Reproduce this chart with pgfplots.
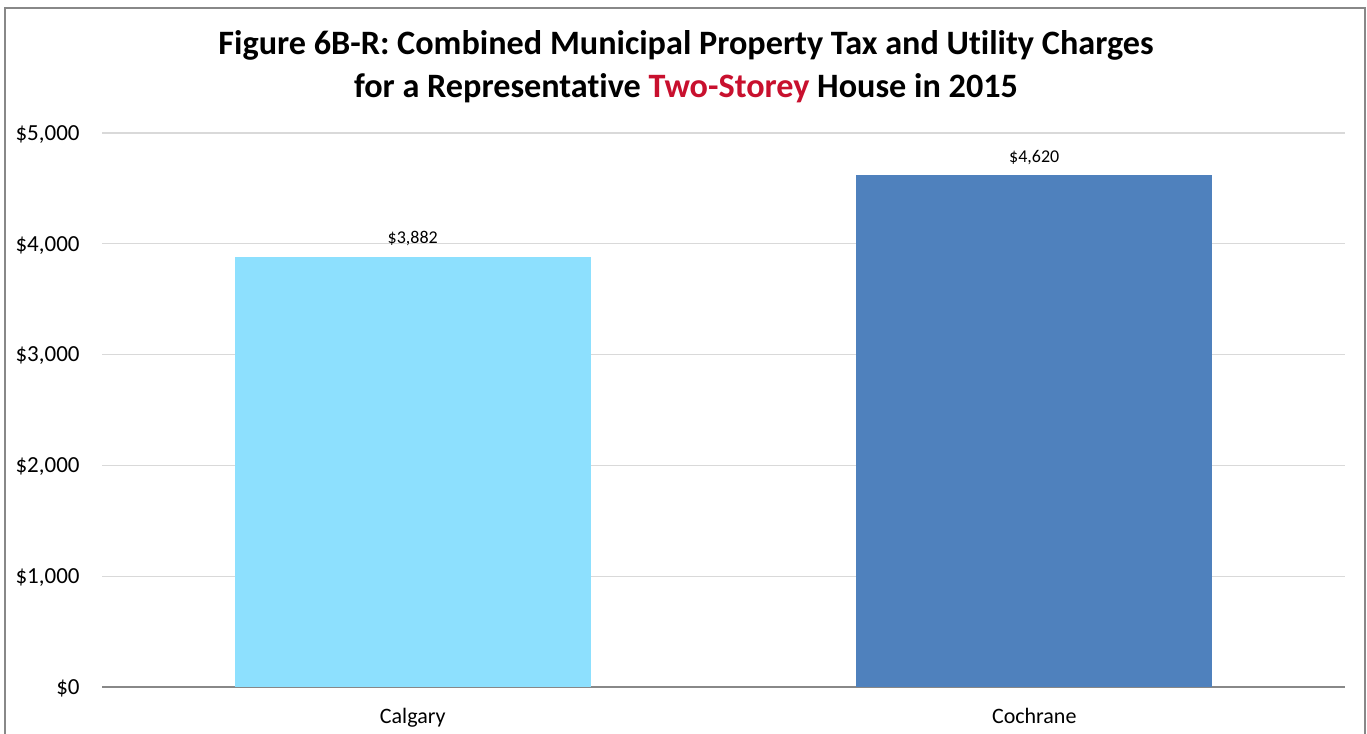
\documentclass[border=0pt]{standalone}
\usepackage{pgfplots}
\pgfplotsset{compat=1.18}
\usepackage{fontspec}
\setmainfont{Carlito}[Ligatures=NoCommon]
\definecolor{calg}{HTML}{8DE0FE}
\definecolor{coch}{HTML}{4F81BD}
\definecolor{titlered}{HTML}{C8102E}
\definecolor{gridgray}{HTML}{D9D9D9}
\definecolor{axgray}{HTML}{888888}
\begin{document}
\begin{tikzpicture}[x=1pt,y=1pt]
\useasboundingbox (0,0) rectangle (683.5,367);
\draw[axgray, line width=1pt] (2.5,-2) -- (2.5,363) -- (682.5,363) -- (682.5,-2);
\node[anchor=base, font=\fontsize{17.1}{20}\selectfont\bfseries] at (343,339.5) {Figure 6B-R: Combined Municipal Property Tax and Utility Charges};
\node[anchor=base, font=\fontsize{17.1}{20}\selectfont\bfseries] at (343,318) {for a Representative \textcolor{titlered}{Two-Storey} House in 2015};
\begin{axis}[
  at={(51pt,23.5pt)}, anchor=south west,
  scale only axis, width=621.5pt, height=277pt,
  xmin=-0.5, xmax=1.5, ymin=0, ymax=5000,
  xtick={0,1}, xticklabels={Calgary,Cochrane},
  ytick={0,1000,2000,3000,4000,5000},
  yticklabels={{\$0},{\$1,000},{\$2,000},{\$3,000},{\$4,000},{\$5,000}},
  major tick length=0pt,
  axis y line*=left,
  axis x line*=bottom,
  y axis line style={draw=none},
  x axis line style={axgray, line width=1pt, -},
  ymajorgrids, grid style={gridgray, line width=0.6pt},
  yticklabel style={anchor=base east, yshift=-3.6pt, xshift=-11pt, inner sep=0pt, font=\fontsize{11.5}{13}\selectfont},
  xticklabel style={anchor=base, yshift=-18.5pt, inner sep=0pt, font=\fontsize{11}{13}\selectfont},
  ybar, bar width=178pt,
  nodes near coords,
  nodes near coords style={font=\fontsize{9}{11}\selectfont, anchor=base, yshift=6.5pt, inner sep=0pt, black},
  point meta=explicit symbolic,
  clip=false,
]
\addplot[fill=calg, draw=none, bar shift=0pt] coordinates {(0,3882) [\$3,882]};
\addplot[fill=coch, draw=none, bar shift=0pt] coordinates {(1,4620) [\$4,620]};
\end{axis}
\end{tikzpicture}
\end{document}
